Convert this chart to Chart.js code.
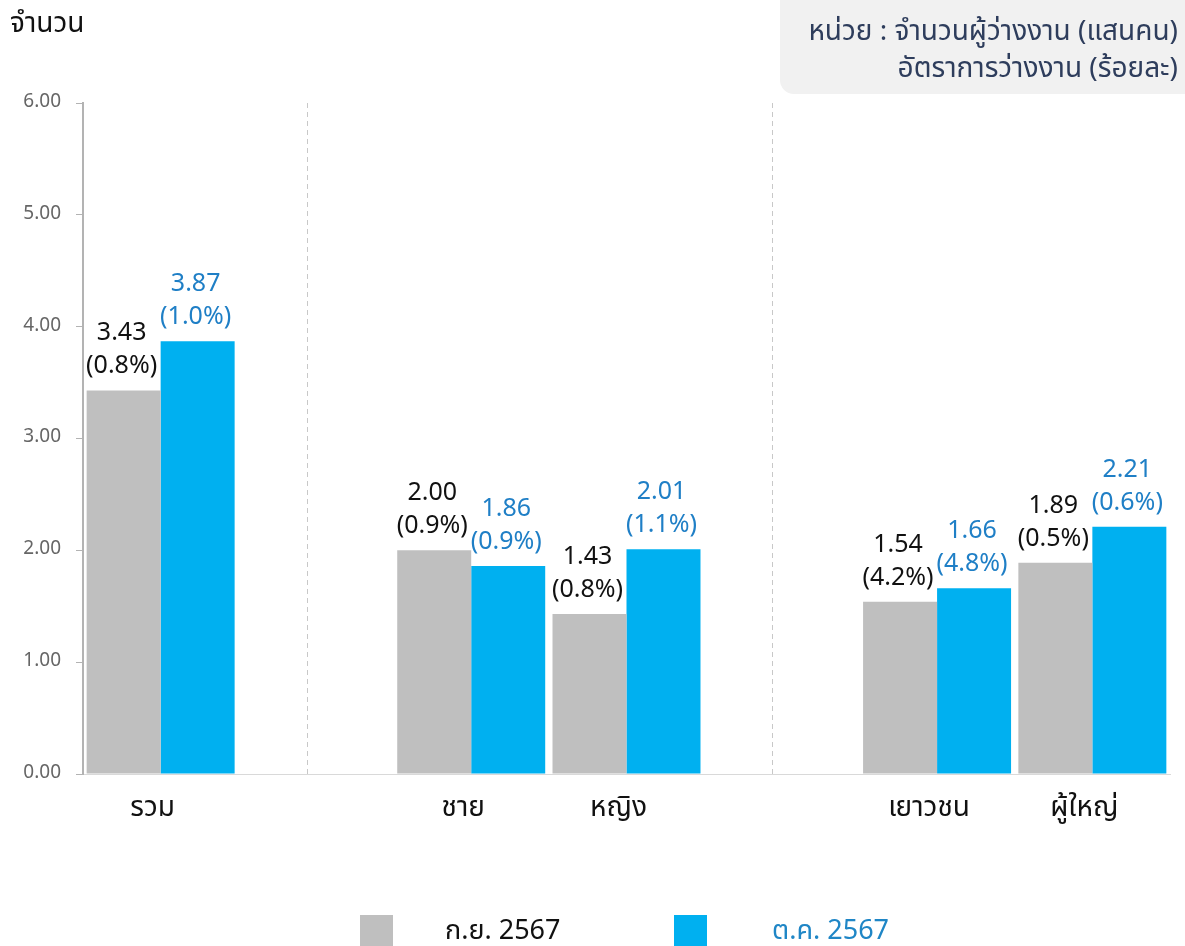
<!DOCTYPE html>
<html>
<head>
<meta charset="utf-8">
<script src="https://cdn.jsdelivr.net/npm/chart.js@4.4.1/dist/chart.umd.min.js"></script>
<style>
  html, body { margin: 0; padding: 0; background: #fff; overflow: hidden; }
  body { width: 1185px; height: 946px; position: relative;
         font-family: "Noto Sans Thai", "Noto Sans", sans-serif; }
  #wrap { position: absolute; left: 0; top: 0; width: 1185px; height: 946px; }
  .ylabel { position: absolute; left: 10px; top: 4px; font-size: 28px; line-height: 40px; color: #111; }
  .unit { position: absolute; left: 780px; top: 0; width: 405px; height: 94px;
          background: #f1f1f1; border-bottom-left-radius: 14px;
          color: #2e3d5c; font-size: 28px; text-align: right; line-height: 37px;
          box-sizing: border-box; padding: 13px 7px 0 0; white-space: nowrap; }
  .leg { position: absolute; top: 915px; font-size: 27px; line-height: 33px; }
  .leg .box { position: absolute; top: 0; width: 33px; height: 33px; }
  .leg .txt { position: absolute; top: -1px; white-space: nowrap; }
</style>
</head>
<body>
<div id="wrap"><canvas id="c" width="1185" height="946"></canvas></div>
<div class="ylabel">จำนวน</div>
<div class="unit">หน่วย : จำนวนผู้ว่างงาน (แสนคน)<br>อัตราการว่างงาน (ร้อยละ)</div>
<div class="leg" style="left:360px"><div class="box" style="left:0;background:#bfbfbf"></div><div class="txt" style="left:85px;color:#111">ก.ย. 2567</div></div>
<div class="leg" style="left:674px"><div class="box" style="left:0;background:#00b0f0"></div><div class="txt" style="left:98px;color:#1f86c6">ต.ค. 2567</div></div>
<script>
// Unemployment: Sep vs Oct 2567 (blank slots separate the groups)
var categories = ['รวม', '', 'ชาย', 'หญิง', '', 'เยาวชน', 'ผู้ใหญ่'];
var sepValues = [3.43, null, 2.00, 1.43, null, 1.54, 1.89];
var octValues = [3.87, null, 1.86, 2.01, null, 1.66, 2.21];
var sepRates = ['0.8%', '', '0.9%', '0.8%', '', '4.2%', '0.5%'];
var octRates = ['1.0%', '', '0.9%', '1.1%', '', '4.8%', '0.6%'];
var separatorSlots = [1, 4];

var FONT = '"Noto Sans Thai", "Noto Sans", sans-serif';

// two-line value labels above each bar
var barLabels = {
  id: 'barLabels',
  afterDatasetsDraw: function (chart) {
    var ctx = chart.ctx;
    var rates = [sepRates, octRates];
    var colors = ['#111111', '#1f7fc6'];
    ctx.save();
    ctx.font = '25px ' + FONT;
    ctx.textAlign = 'center';
    ctx.textBaseline = 'middle';
    chart.data.datasets.forEach(function (ds, di) {
      var meta = chart.getDatasetMeta(di);
      meta.data.forEach(function (bar, i) {
        if (ds.data[i] == null) return;
        ctx.fillStyle = colors[di];
        ctx.fillText(ds.data[i].toFixed(2), bar.x - 2, bar.y - 55);
        ctx.fillText('(' + rates[di][i] + ')', bar.x - 2, bar.y - 22);
      });
    });
    ctx.restore();
  }
};

// dashed dividers between groups
var dividers = {
  id: 'dividers',
  beforeDatasetsDraw: function (chart) {
    var ctx = chart.ctx, x = chart.scales.x, area = chart.chartArea;
    var slot = x.width / categories.length;
    ctx.save();
    ctx.strokeStyle = '#c8c8c8';
    ctx.lineWidth = 1;
    ctx.setLineDash([5, 4]);
    separatorSlots.forEach(function (s) {
      var px = Math.round(x.getPixelForValue(s) - slot * 0.06) + 0.5;
      ctx.beginPath();
      ctx.moveTo(px, area.top);
      ctx.lineTo(px, area.bottom);
      ctx.stroke();
    });
    ctx.restore();
  }
};

new Chart(document.getElementById('c'), {
  type: 'bar',
  data: {
    labels: categories,
    datasets: [
      { label: 'ก.ย. 2567', data: sepValues, backgroundColor: '#bfbfbf', borderWidth: 0 },
      { label: 'ต.ค. 2567', data: octValues, backgroundColor: '#00b0f0', borderWidth: 0 }
    ]
  },
  options: {
    responsive: false,
    animation: false,
    layout: { padding: { top: 103, right: 15, left: 0, bottom: 0 } },
    categoryPercentage: 0.953,
    barPercentage: 1.0,
    scales: {
      x: {
        grid: { display: false, drawTicks: false },
        border: { color: '#d9d9d9', width: 1 },
        ticks: { color: '#111', font: { family: FONT, size: 28 }, padding: 20, maxRotation: 0, labelOffset: -8 },
        afterFit: function (s) { s.height = 172; }
      },
      y: {
        min: 0, max: 6,
        grid: { drawOnChartArea: false, drawTicks: true, tickLength: 7, color: '#b3b3b3' },
        border: { color: '#b3b3b3', width: 2 },
        ticks: {
          stepSize: 1, color: '#666', padding: 15,
          font: { family: FONT, size: 19 },
          callback: function (v) { return Number(v).toFixed(2); }
        },
        afterFit: function (s) { s.width = 83; }
      }
    },
    plugins: {
      legend: { display: false },
      tooltip: { enabled: false }
    }
  },
  plugins: [dividers, barLabels]
});
</script>
</body>
</html>
